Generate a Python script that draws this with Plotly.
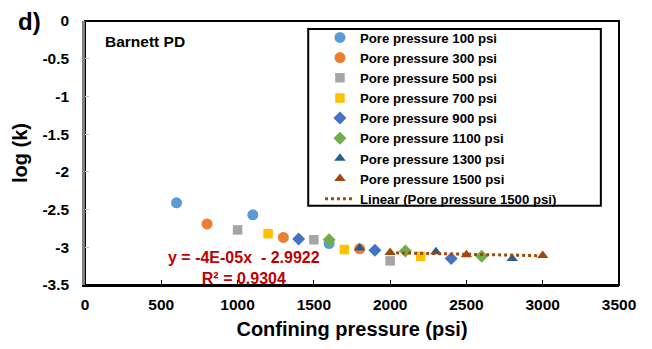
import plotly.graph_objects as go

# Confining pressure (psi) and log permeability for each pore-pressure series
conf_100 = [600, 1100, 1600]
logk_100 = [-2.41, -2.57, -2.95]
conf_300 = [800, 1300, 1800]
logk_300 = [-2.69, -2.87, -3.02]
conf_500 = [1000, 1500, 2000]
logk_500 = [-2.77, -2.90, -3.18]
conf_700 = [1200, 1700, 2200]
logk_700 = [-2.82, -3.03, -3.12]
conf_900 = [1400, 1900, 2400]
logk_900 = [-2.89, -3.04, -3.15]
conf_1100 = [1600, 2100, 2600]
logk_1100 = [-2.90, -3.05, -3.12]
conf_1300 = [1800, 2300, 2800]
logk_1300 = [-3.01, -3.06, -3.15]
conf_1500 = [2000, 2500, 3000]
logk_1500 = [-3.07, -3.10, -3.11]

# Linear trend for the 1500 psi series
trend_slope = -4e-05
trend_intercept = -2.9922
trend_r2 = 0.9304

x_ticks = [0, 500, 1000, 1500, 2000, 2500, 3000, 3500]
y_ticks = [0, -0.5, -1, -1.5, -2, -2.5, -3, -3.5]

FONT = "Liberation Sans, Arial, sans-serif"

series = [
    ("Pore pressure 100 psi", conf_100, logk_100, "circle", "#5B9BD5", 11),
    ("Pore pressure 300 psi", conf_300, logk_300, "circle", "#ED7D31", 11),
    ("Pore pressure 500 psi", conf_500, logk_500, "square", "#A5A5A5", 9.5),
    ("Pore pressure 700 psi", conf_700, logk_700, "square", "#FFC000", 9.5),
    ("Pore pressure 900 psi", conf_900, logk_900, "diamond", "#4472C4", 10),
    ("Pore pressure 1100 psi", conf_1100, logk_1100, "diamond", "#70AD47", 10),
    ("Pore pressure 1300 psi", conf_1300, logk_1300, "triangle-up", "#255E91", 10),
    ("Pore pressure 1500 psi", conf_1500, logk_1500, "triangle-up", "#9E480E", 10),
]

fig = go.Figure()
for name, xs, ys, sym, col, size in series:
    fig.add_trace(go.Scatter(
        x=xs, y=ys, mode="markers", name=name,
        marker=dict(symbol=sym, color=col, size=size, line=dict(width=0)),
    ))

trend_x = [min(conf_1500), max(conf_1500)]
trend_y = [trend_slope * v + trend_intercept for v in trend_x]
fig.add_trace(go.Scatter(
    x=trend_x, y=trend_y, mode="lines", name="Linear (Pore pressure 1500 psi)",
    line=dict(color="#9E480E", width=3, dash="dot"),
))

# Regression equation label
eq_text = f"y = {trend_slope:.0E}x  - {abs(trend_intercept)}<br>R² = {trend_r2}"
fig.add_annotation(
    x=1040, y=-3.28, xref="x", yref="y", showarrow=False,
    xanchor="center", yanchor="middle",
    text=eq_text,
    font=dict(family=FONT, size=16, color="#C00000", weight="bold"),
    align="center",
)

# Panel letter and sample name
fig.add_annotation(x=-0.103, y=1.0, xref="paper", yref="paper", text="d)", showarrow=False,
                   xanchor="center", yanchor="middle",
                   font=dict(family=FONT, size=24, color="black", weight="bold"))
fig.add_annotation(x=0.033, y=0.923, xref="paper", yref="paper", text="Barnett PD",
                   showarrow=False, xanchor="left", yanchor="middle",
                   font=dict(family=FONT, size=15.5, color="black", weight="bold"))

# Plot frame and legend box
fig.add_shape(type="rect", xref="paper", yref="paper", x0=0, x1=1, y0=0, y1=1,
              line=dict(color="black", width=2), layer="below")
fig.add_shape(type="rect", xref="paper", yref="paper",
              x0=0.418, x1=0.966, y0=0.30, y1=0.970,
              line=dict(color="black", width=2), fillcolor="white", layer="below")

fig.update_layout(
    width=652, height=349,
    margin=dict(l=85, r=33, t=20, b=62),
    paper_bgcolor="white", plot_bgcolor="white",
    font=dict(family=FONT, color="black"),
    showlegend=True,
    legend=dict(
        x=0.440, y=0.995, xanchor="left", yanchor="top",
        bgcolor="rgba(0,0,0,0)", borderwidth=0,
        font=dict(family=FONT, size=13.2, color="black", weight="bold"),
        itemwidth=30, tracegroupgap=0,
    ),
    xaxis=dict(
        range=[0, 3500], tickvals=x_ticks, ticktext=[str(v) for v in x_ticks],
        showgrid=False, zeroline=False, showline=True, linecolor="black", linewidth=2,
        ticks="inside", ticklen=5, tickcolor="black", tickwidth=1,
        ticklabelstandoff=4,
        tickfont=dict(family=FONT, size=15.5, color="black", weight="bold"),
        title=dict(text="Confining pressure (psi)", standoff=10,
                   font=dict(family=FONT, size=20, color="black", weight="bold")),
    ),
    yaxis=dict(
        range=[-3.5, 0], tickvals=y_ticks, ticktext=[f"{v:g}" for v in y_ticks],
        showgrid=False, zeroline=False, showline=True, linecolor="#808080", linewidth=2.5,
        ticks="inside", ticklen=4, tickcolor="#BFBFBF", tickwidth=1,
        ticklabelstandoff=10,
        tickfont=dict(family=FONT, size=15.5, color="black", weight="bold"),
        title=dict(text="log (k)", standoff=10,
                   font=dict(family=FONT, size=20, color="black", weight="bold")),
    ),
)

fig.write_html("out.html")
